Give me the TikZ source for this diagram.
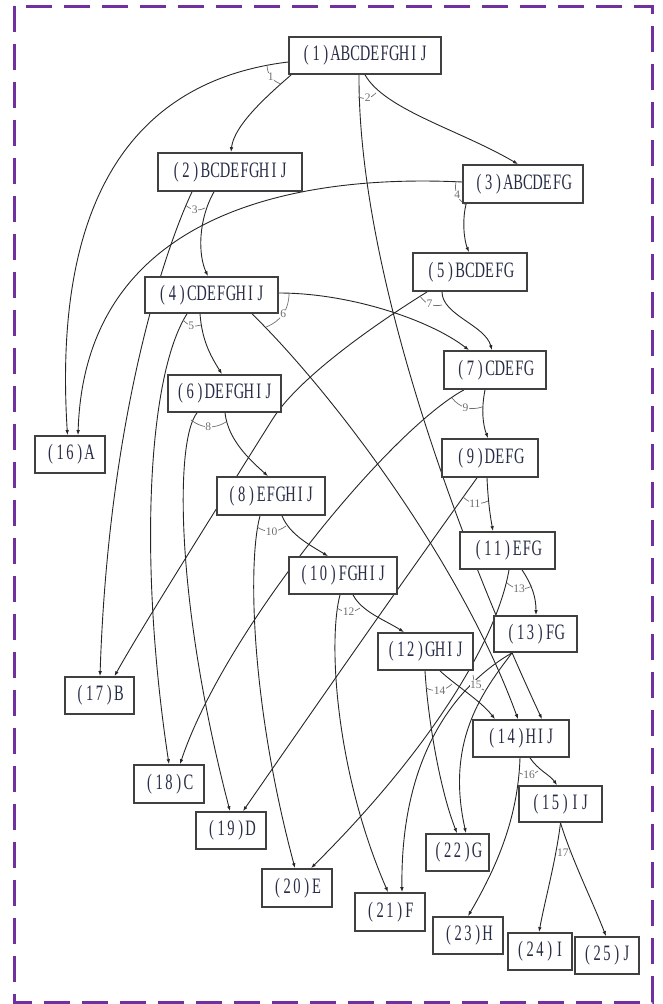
\documentclass[tikz,border=0pt]{standalone}
\usepackage{fontspec}
\setmainfont{Liberation Serif}
\newfontfamily\nodefont{Liberation Serif}[FakeStretch=0.66]
\usetikzlibrary{arrows.meta,backgrounds}
\definecolor{bordercol}{RGB}{112,48,160}
\definecolor{txtcol}{RGB}{40,45,70}
\definecolor{labcol}{RGB}{110,110,110}
\ExplSyntaxOn
\NewDocumentCommand\monotxt{m}{\tl_map_inline:nn{#1}{\makebox[9.77pt]{##1}}}
\ExplSyntaxOff
\tikzset{
  box/.style={draw=black!75, line width=1.7pt, fill=white, inner sep=0pt, text=txtcol,
    font=\nodefont\fontsize{22pt}{22pt}\selectfont},
  edge/.style={draw=black!85, line width=0.9pt, -{Latex[length=5pt,width=3.6pt]}},
  labarc/.style={draw=labcol, line width=0.7pt},
  labtxt/.style={fill=white, inner sep=0.5pt, text=labcol, font=\fontsize{11.5pt}{11.5pt}\selectfont},
}
\begin{document}
\begin{tikzpicture}[x=1pt,y=-1pt]
\useasboundingbox (0,0) rectangle (662,1004);
% nodes
\node[box, minimum width=152pt, minimum height=37pt] (n1) at (365,55.5) {\monotxt{(1)ABCDEFGHIJ}};
\node[box, minimum width=144pt, minimum height=38pt] (n2) at (230,172) {\monotxt{(2)BCDEFGHIJ}};
\node[box, minimum width=120pt, minimum height=38pt] (n3) at (523,184) {\monotxt{(3)ABCDEFG}};
\node[box, minimum width=133pt, minimum height=36pt] (n4) at (211.5,295) {\monotxt{(4)CDEFGHIJ}};
\node[box, minimum width=114pt, minimum height=38pt] (n5) at (470,272) {\monotxt{(5)BCDEFG}};
\node[box, minimum width=113pt, minimum height=37pt] (n6) at (224.5,393.5) {\monotxt{(6)DEFGHIJ}};
\node[box, minimum width=102pt, minimum height=38pt] (n7) at (495,370) {\monotxt{(7)CDEFG}};
\node[box, minimum width=108pt, minimum height=38pt] (n8) at (271,496) {\monotxt{(8)EFGHIJ}};
\node[box, minimum width=96pt, minimum height=38pt] (n9) at (490,458) {\monotxt{(9)DEFG}};
\node[box, minimum width=108pt, minimum height=37pt] (n10) at (343,575.5) {\monotxt{(10)FGHIJ}};
\node[box, minimum width=95pt, minimum height=37pt] (n11) at (507.5,550.5) {\monotxt{(11)EFG}};
\node[box, minimum width=95pt, minimum height=37pt] (n12) at (425.5,651.5) {\monotxt{(12)GHIJ}};
\node[box, minimum width=83pt, minimum height=36pt] (n13) at (535.5,634) {\monotxt{(13)FG}};
\node[box, minimum width=96pt, minimum height=37pt] (n14) at (521,738.5) {\monotxt{(14)HIJ}};
\node[box, minimum width=83pt, minimum height=36pt] (n15) at (560.5,804) {\monotxt{(15)IJ}};
\node[box, minimum width=70pt, minimum height=37pt] (n16) at (70,454.5) {\monotxt{(16)A}};
\node[box, minimum width=69pt, minimum height=37pt] (n17) at (99.5,695.5) {\monotxt{(17)B}};
\node[box, minimum width=70pt, minimum height=38pt] (n18) at (169,784) {\monotxt{(18)C}};
\node[box, minimum width=70pt, minimum height=37pt] (n19) at (231,830.5) {\monotxt{(19)D}};
\node[box, minimum width=70pt, minimum height=38pt] (n20) at (297,888) {\monotxt{(20)E}};
\node[box, minimum width=70pt, minimum height=38pt] (n21) at (390,912) {\monotxt{(21)F}};
\node[box, minimum width=63pt, minimum height=37pt] (n22) at (457.5,852.5) {\monotxt{(22)G}};
\node[box, minimum width=70pt, minimum height=37pt] (n23) at (468,935.5) {\monotxt{(23)H}};
\node[box, minimum width=64pt, minimum height=37pt] (n24) at (540,951.5) {\monotxt{(24)I}};
\node[box, minimum width=64pt, minimum height=37pt] (n25) at (607,955.5) {\monotxt{(25)J}};
\begin{pgfonlayer}{background}
\draw[bordercol, line width=3pt, dash pattern=on 26pt off 12pt] (14,6) rectangle (652,1002);
% split 1
\draw[edge] ([yshift=-6.5pt]n1.west) .. controls (140,80) and (52,190) .. ([xshift=-2.5pt]n16.north);
\draw[edge] ([xshift=3pt]n1.south west) .. controls (268,95) and (234,125) .. ([xshift=1pt]n2.north);
% split 2
\draw[edge] ([xshift=-6pt]n1.south) .. controls (358,250) and (440,500) .. ([xshift=21pt]n14.north);
\draw[edge] (n1.south) .. controls (385,110) and (460,130) .. ([xshift=-5pt]n3.north);
% split 3
\draw[edge] ([xshift=-38pt]n2.south) .. controls (160,260) and (108,430) .. ([xshift=0.5pt]n17.north);
\draw[edge] ([xshift=-16pt]n2.south) .. controls (198,220) and (198,255) .. ([xshift=-3.5pt]n4.north);
% split 4
\draw[edge] ([yshift=2pt]n3.west) .. controls (320,175) and (85,200) .. ([xshift=8pt]n16.north);
\draw[edge] ([xshift=4pt]n3.south west) .. controls (462,220) and (464,240) .. ([xshift=-1pt]n5.north);
% split 5
\draw[edge] ([xshift=-24.5pt]n4.south) .. controls (148,375) and (138,560) .. (n18.north);
\draw[edge] ([xshift=-11.5pt]n4.south) .. controls (202,340) and (210,355) .. ([xshift=-2.5pt]n6.north);
% split 6
\draw[edge] ([yshift=2pt]n4.east) .. controls (350,293) and (430,320) .. ([xshift=-26pt]n7.north);
\draw[edge] ([xshift=40.5pt]n4.south) .. controls (330,390) and (460,560) .. ([xshift=-3pt]n14.north);
% split 7
\draw[edge] ([xshift=15pt]n5.south west) .. controls (385,318) and (300,375) .. (272,420)
  .. controls (222,500) and (140,630) .. ([xshift=15pt]n17.north);
\draw[edge] ([xshift=-28pt]n5.south) .. controls (442,315) and (485,325) .. ([xshift=-3pt]n7.north);
% split 8
\draw[edge] ([xshift=-27.5pt]n6.south) .. controls (175,440) and (175,600) .. ([xshift=-1pt]n19.north);
\draw[edge] ([xshift=0.5pt]n6.south) .. controls (228,440) and (250,460) .. ([xshift=-3pt]n8.north);
% split 9
\draw[edge] ([xshift=-31pt]n7.south) .. controls (390,430) and (225,630) .. ([xshift=11pt]n18.north);
\draw[edge] ([xshift=-10pt]n7.south) .. controls (481,410) and (483,425) .. ([xshift=-2pt]n9.north);
% split 10
\draw[edge] ([xshift=-11pt]n8.south) .. controls (248,560) and (250,700) .. ([xshift=-2pt]n20.north);
\draw[edge] ([xshift=11pt]n8.south) .. controls (290,535) and (310,545) .. ([xshift=-15pt]n10.north);
% split 11
\draw[edge] ([xshift=-13pt]n9.south) .. controls (400,585) and (320,700) .. ([xshift=12pt]n19.north);
\draw[edge] ([xshift=-3pt]n9.south) .. controls (488,500) and (490,515) .. ([xshift=-14.5pt]n11.north);
% split 12
\draw[edge] ([xshift=-3pt]n10.south) .. controls (328,640) and (335,770) .. ([xshift=-2pt]n21.north);
\draw[edge] ([xshift=10pt]n10.south) .. controls (362,612) and (385,620) .. ([xshift=-21.5pt]n12.north);
% split 13
\draw[edge] ([xshift=1.5pt]n11.south) .. controls (497,640) and (430,750) .. ([xshift=14pt]n20.north);
\draw[edge] ([xshift=14.5pt]n11.south) .. controls (532,585) and (536,597) .. ([xshift=0.5pt]n13.north);
% split 14
\draw[edge] ([xshift=-0.5pt]n12.south) .. controls (428,720) and (440,790) .. ([xshift=-0.5pt]n22.north);
\draw[edge] ([xshift=14.5pt]n12.south) .. controls (455,685) and (480,700) .. ([xshift=-26pt]n14.north);
% split 15
\draw[edge] ([xshift=-23.5pt]n13.south) .. controls (465,680) and (400,745) .. ([xshift=12pt]n21.north);
\draw[edge] ([xshift=-23.5pt]n13.south) .. controls (484,690) and (445,740) .. ([xshift=8.5pt]n22.north);
% split 16
\draw[edge] ([xshift=-1pt]n14.south) .. controls (518,820) and (495,870) .. (n23.north);
\draw[edge] ([xshift=9pt]n14.south) .. controls (538,770) and (550,775) .. ([xshift=-3.5pt]n15.north);
% split 17
\draw[edge] (n15.south) .. controls (556,860) and (545,900) .. ([xshift=-1pt]n24.north);
\draw[edge] (n15.south) .. controls (572,860) and (592,900) .. ([xshift=-1pt]n25.north);
% split labels
\draw[labarc] (267,65) to[bend right=35] node[labtxt]{1} (281,84);
\draw[labarc] (358,97) to[bend right=35] node[labtxt]{2} (376,93);
\draw[labarc] (185.5,205) to[bend right=35] node[labtxt]{3} (205,208);
\draw[labarc] (456,182) to[bend right=35] node[labtxt]{4} (466,205);
\draw[labarc] (183,320) to[bend right=35] node[labtxt]{5} (201,325);
\draw[labarc] (266,327) to[bend right=35] node[labtxt]{6} (289,293);
\draw[labarc] (420,296) to[bend right=35] node[labtxt]{7} (442,305);
\draw[labarc] (191,420) to[bend right=35] node[labtxt]{8} (226,422);
\draw[labarc] (452,398) to[bend right=35] node[labtxt]{9} (482,407);
\draw[labarc] (257,527) to[bend right=35] node[labtxt]{10} (286,526);
\draw[labarc] (463,497) to[bend right=35] node[labtxt]{11} (488,501);
\draw[labarc] (337,608) to[bend right=35] node[labtxt]{12} (360,608);
\draw[labarc] (507,583) to[bend right=35] node[labtxt]{13} (532,586);
\draw[labarc] (426,688) to[bend right=35] node[labtxt]{14} (452,684);
\draw[labarc] (473,675) to[bend right=35] node[labtxt]{15} (484,690);
\draw[labarc] (519.5,773) to[bend right=35] node[labtxt]{16} (538,771);
\draw[labarc] (557,850) to[bend right=35] node[labtxt]{17} (569.5,852);
\end{pgfonlayer}
\end{tikzpicture}
\end{document}
